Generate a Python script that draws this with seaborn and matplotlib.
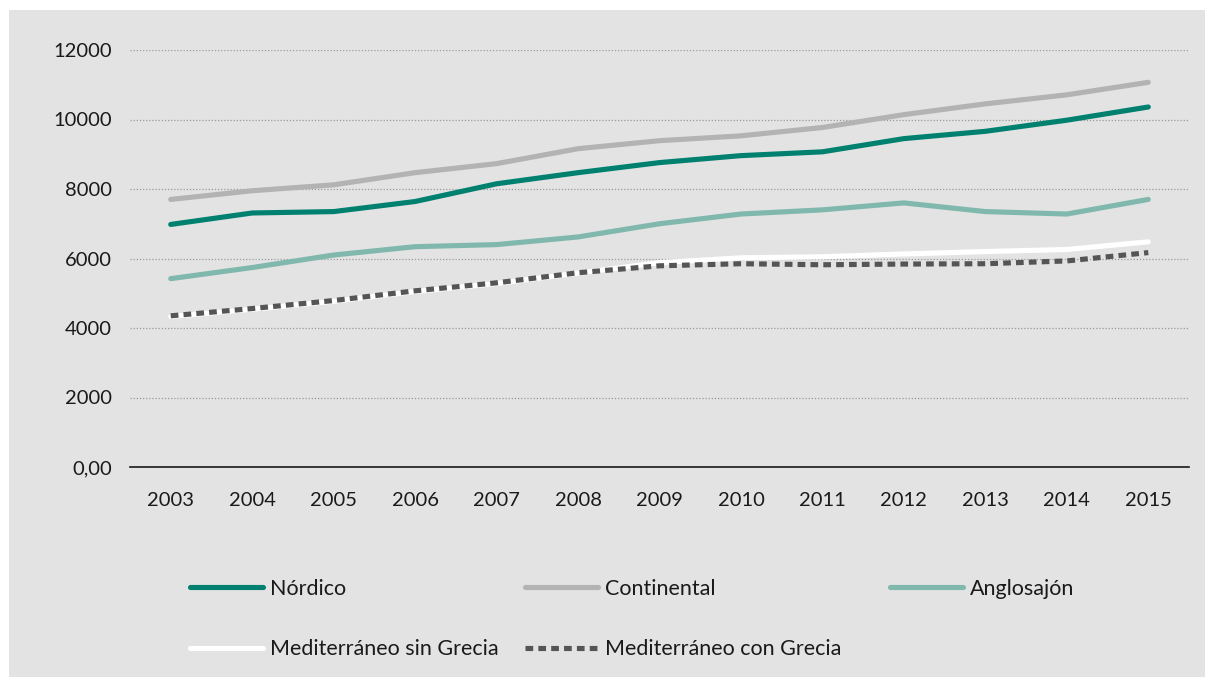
import seaborn as sns
import matplotlib.pyplot as plt
import matplotlib.patches as mpatches
import pandas as pd

years = list(range(2003, 2016))

nordico = [6980, 7310, 7350, 7640, 8150, 8470, 8760, 8960, 9070, 9450, 9660, 9980, 10360]
continental = [7700, 7950, 8120, 8470, 8730, 9160, 9390, 9530, 9770, 10140, 10450, 10710, 11070]
anglosajon = [5420, 5740, 6100, 6340, 6400, 6620, 7000, 7280, 7400, 7600, 7350, 7280, 7700]
med_sin = [4330, 4540, 4770, 5050, 5280, 5580, 5880, 6020, 6050, 6130, 6200, 6260, 6480]
med_con = [4350, 4560, 4790, 5070, 5300, 5590, 5790, 5850, 5820, 5840, 5850, 5930, 6170]

y_ticks = [0, 2000, 4000, 6000, 8000, 10000, 12000]
y_labels = ["0,00", "2000", "4000", "6000", "8000", "10000", "12000"]

df = pd.DataFrame({
    "year": years,
    "Nórdico": nordico,
    "Continental": continental,
    "Anglosajón": anglosajon,
    "Mediterráneo sin Grecia": med_sin,
    "Mediterráneo con Grecia": med_con,
})

sns.set_style("white")
plt.rcParams["font.family"] = ["Lato", "DejaVu Sans"]

bg = "#e3e3e3"
fig = plt.figure(figsize=(12.05, 6.77), dpi=100, facecolor="white")
fig.patches.append(mpatches.Rectangle((9 / 1205, 0), 1, 1 - 10 / 677,
                                      transform=fig.transFigure, facecolor=bg,
                                      edgecolor="none", zorder=-10))

ax = fig.add_axes([130 / 1205, 210 / 677, 1059 / 1205, 417 / 677])
ax.set_facecolor(bg)

lw = 3.7
styles = {
    "Continental": dict(color="#b3b3b3", linestyle="-"),
    "Nórdico": dict(color="#00806f", linestyle="-"),
    "Anglosajón": dict(color="#80b8ad", linestyle="-"),
    "Mediterráneo sin Grecia": dict(color="#ffffff", linestyle="-"),
    "Mediterráneo con Grecia": dict(color="#555555", linestyle=(0, (1.5, 1.0))),
}

lines = {}
for name, st in styles.items():
    sns.lineplot(data=df, x="year", y=name, ax=ax, color=st["color"],
                 linestyle=st["linestyle"], linewidth=lw, label=name,
                 solid_capstyle="round", dash_capstyle="butt")
    lines[name] = ax.get_lines()[-1]
ax.get_legend().remove()

ax.set_xlim(2002.5, 2015.5)
ax.set_ylim(0, 12000)
ax.set_xticks(years)
ax.set_xticklabels([str(y) for y in years])
ax.set_yticks(y_ticks)
ax.set_yticklabels(y_labels)
ax.set_xlabel("")
ax.set_ylabel("")

ax.yaxis.grid(True, linestyle=(0, (1, 1.5)), color="#9a9a9a", linewidth=0.9)
ax.set_axisbelow(True)
for s in ["top", "right", "left"]:
    ax.spines[s].set_visible(False)
ax.spines["bottom"].set_color("#1a1a1a")
ax.spines["bottom"].set_linewidth(1.2)
ax.tick_params(axis="both", length=0, labelsize=14.5, labelcolor="#1a1a1a")
ax.tick_params(axis="y", pad=13)
ax.tick_params(axis="x", pad=18)

columns = [
    (190, ["Nórdico", "Mediterráneo sin Grecia"]),
    (525, ["Continental", "Mediterráneo con Grecia"]),
    (890, ["Anglosajón"]),
]
for x0, names in columns:
    hs = [lines[n] for n in names]
    leg = fig.legend(hs, names, loc="upper left",
                     bbox_to_anchor=(x0 / 1205, 1 - 579 / 677),
                     frameon=False, fontsize=15.5, handlelength=3.4,
                     handletextpad=0.3, labelspacing=1.88, borderpad=0,
                     borderaxespad=0)
    for t in leg.get_texts():
        t.set_color("#1a1a1a")

fig.savefig("out.png", dpi=100, facecolor=fig.get_facecolor())
